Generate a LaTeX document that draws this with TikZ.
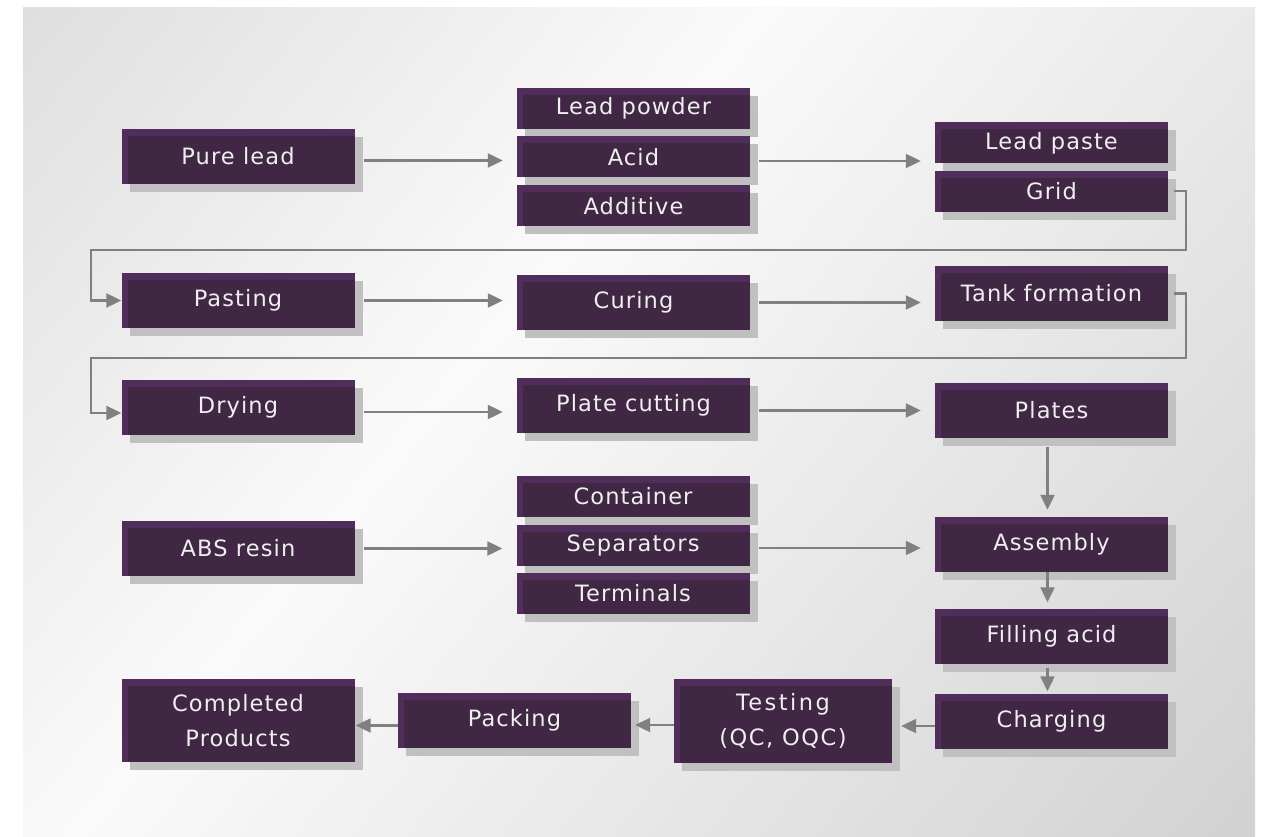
\documentclass[tikz,border=0pt]{standalone}
\usepackage{fontspec}
\setmainfont{DejaVu Sans}[LetterSpace=5]
\usetikzlibrary{positioning,arrows.meta,calc}

\definecolor{boxlight}{RGB}{80,45,90}
\definecolor{boxdark}{RGB}{64,40,68}
\definecolor{boxshadow}{RGB}{192,192,192}
\definecolor{flowgray}{RGB}{128,128,128}
\definecolor{labelwhite}{RGB}{240,238,240}
\definecolor{bgedge}{RGB}{208,208,208}
\definecolor{bgmid}{RGB}{250,250,250}
\definecolor{bgfar}{RGB}{196,196,196}
\pgfdeclarehorizontalshading{panelglow}{100bp}{color(0bp)=(bgedge); color(42bp)=(bgmid); color(100bp)=(bgfar)}

\begin{document}
\begin{tikzpicture}[
    x=1pt, y=-1pt,
    stage/.style={fill=boxlight, minimum width=233pt, minimum height=55pt, inner sep=0pt,
        text=labelwhite, align=center, font=\fontsize{22.5}{35}\selectfont,
        preaction={fill=boxshadow, transform canvas={shift={(8pt,-8pt)}}},
        path picture={\fill[boxdark] ([shift={(6pt,-7pt)}]path picture bounding box.north west) rectangle (path picture bounding box.south east);}},
    part/.style={stage, minimum height=41pt},
    flow/.style={draw=flowgray, line width=2.2pt, -{Triangle[length=15pt,width=14pt]}},
    hflow/.style={flow, shorten <=9pt, shorten >=14pt},
    vflow/.style={flow, transform canvas={xshift=-4pt}}
]

% Background panel
\useasboundingbox (0,0) rectangle (1262,837);
\fill[white] (0,0) rectangle (1262,837);
\shade[shading=panelglow, shading angle=-40] (23,8) rectangle (1255,836);

% Define node positions
\node[stage] (pure) at (238,156.5) {Pure lead};
\node[part] (powder) at (633.5,108.5) {Lead powder};
\node[part] (acid) at (633.5,157) {Acid};
\node[part] (additive) at (633.5,205.7) {Additive};
\node[part] (paste) at (1051.5,142.8) {Lead paste};
\node[part] (grid) at (1051.5,191.3) {Grid};

\node[stage] (pasting) at (238,300.5) {Pasting};
\node[stage] (curing) at (633.5,302.5) {Curing};
\node[stage] (tank) at (1051.5,293.5) {Tank formation};

\node[stage] (drying) at (238,407) {Drying};
\node[stage] (cutting) at (633.5,405.5) {Plate cutting};
\node[stage] (plates) at (1051.5,410.5) {Plates};

\node[stage] (abs) at (238,548.5) {ABS resin};
\node[part] (container) at (633,496) {Container};
\node[part] (separators) at (633,545) {Separators};
\node[part] (terminals) at (633,593.5) {Terminals};
\node[stage] (assembly) at (1051.5,544.5) {Assembly};

\node[stage] (filling) at (1051.5,636) {Filling acid};
\node[stage] (charging) at (1051.5,721) {Charging};
\node[stage, minimum width=218pt, minimum height=84pt] (testing) at (783,721)
    {{\addfontfeature{LetterSpace=11}Testing}\\{\addfontfeature{LetterSpace=7}(QC, OQC)}};
\node[stage] (packing) at (514.5,720.5) {Packing};
\node[stage, minimum height=83pt] (completed) at (238,720.5) {Completed\\Products};

% Turning points of the two wrap-around lines
\coordinate (wrapNE) at (1186,250);
\coordinate (wrapNW) at (91,250);
\coordinate (wrapSE) at (1186,358);
\coordinate (wrapSW) at (91,358);

% Left to right
\draw[hflow, transform canvas={yshift=-4pt}] (pure.east) -- (pure.east -| acid.west);
\draw[hflow, transform canvas={yshift=-4pt}] (acid.east) -- (acid.east -| paste.west);
\draw[flow, shorten <=6pt] (grid.east) -| (wrapNE) -- (wrapNW) |- (pasting.west);
\draw[hflow] (pasting.east) -- (pasting.east -| curing.west);
\draw[hflow] (curing.east) -- (curing.east -| tank.west);
\draw[flow, shorten <=6pt] (tank.east) -| (wrapSE) -- (wrapSW) |- ([yshift=-6pt]drying.west);
\draw[hflow, transform canvas={yshift=-5pt}] (drying.east) -- (drying.east -| cutting.west);
\draw[hflow, transform canvas={yshift=-5pt}] (cutting.east) -- (cutting.east -| plates.west);
\draw[hflow] (abs.east) -- (abs.east -| separators.west);
\draw[hflow, transform canvas={yshift=-3pt}] (separators.east) -- (separators.east -| assembly.west);

% Down the right column
\draw[vflow, shorten <=9pt, shorten >=7pt] (plates.south) -- (assembly.north);
\draw[vflow, shorten >=6pt] (assembly.south) -- (filling.north);
\draw[vflow, shorten <=4pt, shorten >=2pt] (filling.south) -- (charging.north);

% Back along the bottom row
\draw[flow, shorten >=9pt, transform canvas={yshift=-5pt}] (charging.west) -- (charging.west -| testing.east);
\draw[flow, shorten >=4pt, transform canvas={yshift=-4pt}] (testing.west) -- (testing.west -| packing.east);
\draw[flow, shorten >=1pt, transform canvas={yshift=-5pt}] (packing.west) -- (packing.west -| completed.east);

\end{tikzpicture}
\end{document}
